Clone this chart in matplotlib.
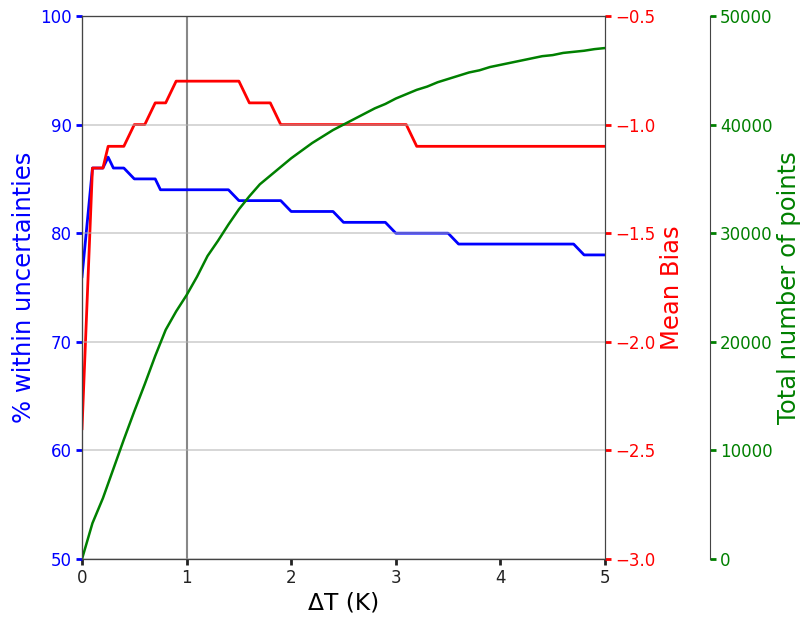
import matplotlib
matplotlib.use("Agg")
import matplotlib.pyplot as plt

# ---- data ----
x_steps = [0, 0.1, 0.2, 0.25, 0.3, 0.4, 0.5, 0.6, 0.7, 0.75, 0.8, 0.9,
           1.0, 1.1, 1.2, 1.3, 1.4, 1.5, 1.6, 1.7, 1.8, 1.9,
           2.0, 2.1, 2.2, 2.3, 2.4, 2.5, 2.6, 2.7, 2.8, 2.9,
           3.0, 3.1, 3.2, 3.3, 3.4, 3.5, 3.6, 3.7, 3.8, 3.9,
           4.0, 4.1, 4.2, 4.3, 4.4, 4.5, 4.6, 4.7, 4.8, 4.9, 5.0]

pct_within = [76, 86, 86, 87, 86, 86, 85, 85, 85, 84, 84, 84,
              84, 84, 84, 84, 84, 83, 83, 83, 83, 83,
              82, 82, 82, 82, 82, 81, 81, 81, 81, 81,
              80, 80, 80, 80, 80, 80, 79, 79, 79, 79,
              79, 79, 79, 79, 79, 79, 79, 79, 78, 78, 78]

mean_bias = [-2.4, -1.2, -1.2, -1.1, -1.1, -1.1, -1.0, -1.0, -0.9, -0.9, -0.9, -0.8,
             -0.8, -0.8, -0.8, -0.8, -0.8, -0.8, -0.9, -0.9, -0.9, -1.0,
             -1.0, -1.0, -1.0, -1.0, -1.0, -1.0, -1.0, -1.0, -1.0, -1.0,
             -1.0, -1.0, -1.1, -1.1, -1.1, -1.1, -1.1, -1.1, -1.1, -1.1,
             -1.1, -1.1, -1.1, -1.1, -1.1, -1.1, -1.1, -1.1, -1.1, -1.1, -1.1]

x_points = [0, 0.1, 0.2, 0.3, 0.4, 0.5, 0.6, 0.7, 0.8, 0.9,
            1.0, 1.1, 1.2, 1.3, 1.4, 1.5, 1.6, 1.7, 1.8, 1.9,
            2.0, 2.1, 2.2, 2.3, 2.4, 2.5, 2.6, 2.7, 2.8, 2.9,
            3.0, 3.1, 3.2, 3.3, 3.4, 3.5, 3.6, 3.7, 3.8, 3.9,
            4.0, 4.1, 4.2, 4.3, 4.4, 4.5, 4.6, 4.7, 4.8, 4.9, 5.0]
total_points = [0, 3300, 5600, 8300, 11000, 13600, 16100, 18700, 21100, 22800,
                24300, 26000, 27900, 29300, 30800, 32200, 33400, 34500, 35300, 36100,
                36900, 37600, 38300, 38900, 39500, 40000, 40500, 41000, 41500, 41900,
                42400, 42800, 43200, 43500, 43900, 44200, 44500, 44800, 45000, 45300,
                45500, 45700, 45900, 46100, 46300, 46400, 46600, 46700, 46800, 46950, 47050]

left_ticks = [50, 60, 70, 80, 90, 100]
bias_ticks = [-3.0, -2.5, -2.0, -1.5, -1.0, -0.5]
count_ticks = [0, 10000, 20000, 30000, 40000, 50000]
x_ticks = [0, 1, 2, 3, 4, 5]

# ---- figure ----
fig = plt.figure(figsize=(8.04, 6.19), dpi=100)
ax = fig.add_axes([82/804, 1-559/619, (605-82)/804, (559-16)/619])
par1 = ax.twinx()
par2 = ax.twinx()
par2.spines['right'].set_position(('axes', 1.2))

spine_col = '#444444'
for a in (ax, par1, par2):
    for s in a.spines.values():
        s.set_color(spine_col)

ax.axvline(1, color='#888888', lw=1.5, zorder=1)

ax.plot(x_steps, pct_within, color='blue', lw=2)
par1.plot(x_steps, mean_bias, color='red', lw=2)
par2.plot(x_points, total_points, color='green', lw=1.8)

ax.set_xlim(0, 5)
ax.set_ylim(50, 100)
par1.set_ylim(-3.0, -0.5)
par2.set_ylim(0, 50000)

ax.set_xticks(x_ticks)
ax.set_yticks(left_ticks)
par1.set_yticks(bias_ticks)
par2.set_yticks(count_ticks)

ax.tick_params(axis='x', labelsize=12, length=4, width=2, colors='#222222')
ax.tick_params(axis='y', labelsize=12, length=4, width=2, colors='blue')
par1.tick_params(axis='y', labelsize=12, length=4, width=2, colors='red')
par2.tick_params(axis='y', labelsize=12, length=4, width=2, colors='green')

par2.grid(axis='y', color='#b0b0b0', alpha=0.6, lw=1.2)

ax.set_xlabel('ΔT (K)', fontsize=16.8, labelpad=3)
ax.set_ylabel('% within uncertainties', fontsize=17.5, color='blue', labelpad=3)
par1.set_ylabel('Mean Bias', fontsize=17.5, color='red', labelpad=3)
par2.set_ylabel('Total number of points', fontsize=17.5, color='green', labelpad=3)

fig.savefig('out.png', dpi=100)
